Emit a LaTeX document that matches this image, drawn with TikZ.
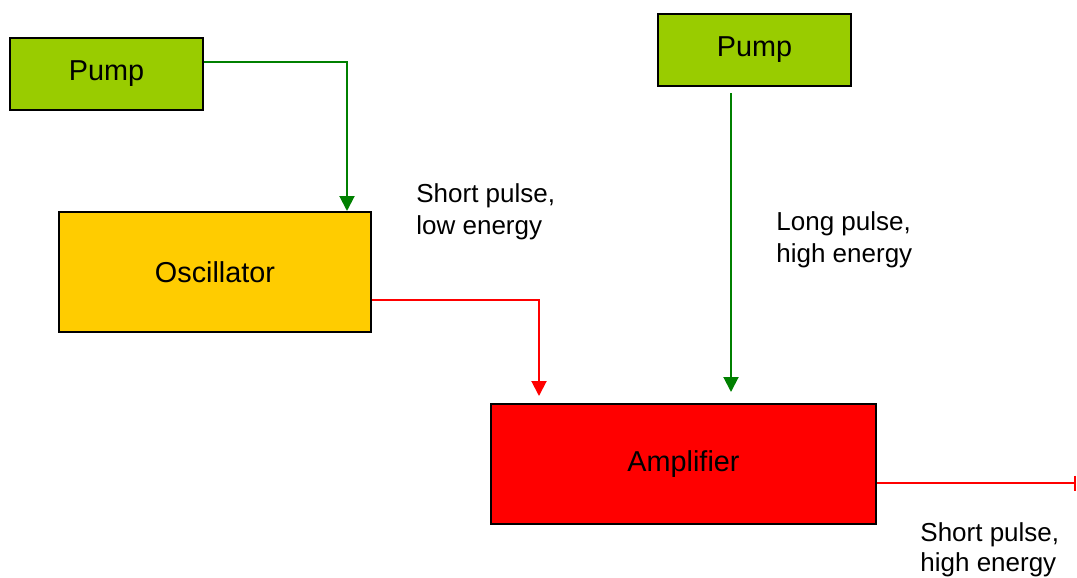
\documentclass[tikz,border=0pt]{standalone}
\usepackage{fontspec}
\setmainfont{Liberation Sans}
\usetikzlibrary{arrows.meta,positioning}
\definecolor{pumpgreen}{RGB}{153,204,0}
\definecolor{oscyellow}{RGB}{255,204,0}
\definecolor{linegreen}{RGB}{0,128,0}
\begin{document}
\begin{tikzpicture}[x=0.5pt,y=-0.5pt,>={Triangle[width=7.5pt,length=7.5pt]},
  box/.style={draw,line width=1pt,minimum width=96.5pt,minimum height=36pt,
  font=\fontsize{14.4}{17}\selectfont},
  pumpline/.style={->,draw=linegreen,line width=1pt},
  beamline/.style={draw=red,line width=1pt},
  note/.style={align=left,anchor=north west,inner sep=0pt,
  font=\fontsize{13}{16}\selectfont}]
  \useasboundingbox (0,0) rectangle (1077,578);
  \node[box,fill=pumpgreen] (pumpA) at (106.5,74) {Pump};
  \node[box,fill=pumpgreen] (pumpB) at (754.5,50) {Pump};
  \node[box,fill=oscyellow,minimum width=156pt,minimum height=60pt] (osc) at (215,272) {Oscillator};
  \node[box,fill=red,minimum width=192.5pt,minimum height=60pt] (amp) at (683.5,464) {Amplifier};
  \coordinate (out) at (1076,483);
  \draw[pumpline] ([yshift=6pt]pumpA.east) -| ([xshift=-12.5pt]osc.north east);
  \draw[beamline,->,shorten >=3.5pt] ([yshift=-14pt]osc.east) -| ([xshift=24.5pt]amp.north west);
  \draw[pumpline,shorten <=3pt,shorten >=5.5pt] ([xshift=-11.75pt]pumpB.south) -- ([xshift=-11.75pt]pumpB.south |- amp.north);
  \draw[beamline,-{Bar[width=7.5pt]}] (out -| amp.east) -- (out);
  \node[note] (lowE) at (416,183) {Short pulse,\\low energy};
  \node[note] (longP) at (776,211) {Long pulse,\\high energy};
  \node[note,font=\fontsize{13}{15}\selectfont] (highE) at (920,522) {Short pulse,\\high energy};
\end{tikzpicture}
\end{document}
